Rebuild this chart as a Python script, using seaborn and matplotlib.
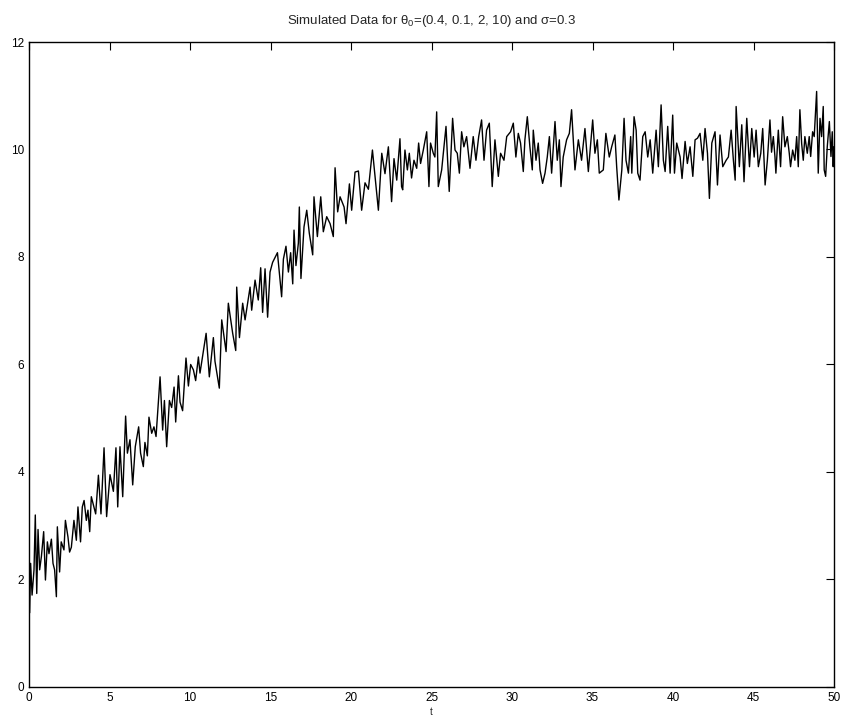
'''
Simulated logistic-type path, theta_0 = (0.4, 0.1, 2, 10), sigma = 0.3
'''
#%%
import numpy as np
import pandas as pd
import matplotlib
matplotlib.use('Agg')
import matplotlib.pyplot as plt
import seaborn as sns

#%% Data
# early rise, t in [0, 10.6]
t_rise = [0.04, 0.10, 0.19, 0.31, 0.39, 0.48, 0.56, 0.66, 0.77, 0.91, 1.02, 1.14, 1.24, 1.39, 1.49,
          1.59, 1.70, 1.76, 1.90, 2.00, 2.17, 2.26, 2.42, 2.52, 2.63, 2.79, 2.94, 3.04, 3.20, 3.31,
          3.42, 3.56, 3.66, 3.77, 3.87, 4.14, 4.31, 4.47, 4.66, 4.82, 5.03, 5.24, 5.40, 5.51, 5.65,
          5.82, 6.00, 6.11, 6.27, 6.44, 6.60, 6.81, 6.93, 7.10, 7.20, 7.35, 7.45, 7.62, 7.76, 7.89,
          8.14, 8.30, 8.41, 8.55, 8.72, 8.86, 9.01, 9.11, 9.28, 9.38, 9.54, 9.75, 9.90, 10.04, 10.21,
          10.35, 10.52]
y_rise = [1.38, 2.30, 1.71, 2.18, 3.20, 1.74, 2.93, 2.18, 2.43, 2.89, 1.99, 2.70, 2.48, 2.75, 2.30,
          2.18, 1.68, 2.98, 2.14, 2.70, 2.55, 3.10, 2.79, 2.51, 2.60, 3.10, 2.73, 3.35, 2.70, 3.35,
          3.47, 3.10, 3.29, 2.89, 3.54, 3.22, 3.94, 3.22, 4.45, 3.17, 3.95, 3.64, 4.45, 3.35, 4.47,
          3.54, 5.04, 4.35, 4.60, 3.76, 4.47, 4.84, 4.35, 4.10, 4.55, 4.30, 5.02, 4.72, 4.84, 4.66,
          5.77, 4.78, 5.33, 4.47, 5.33, 5.20, 5.58, 4.93, 5.79, 5.30, 5.14, 6.12, 5.60, 6.00, 5.90,
          5.70, 6.14]

# bend towards the plateau, t in [10.6, 23]
t_bend = [10.62, 11.00, 11.20, 11.45, 11.55, 11.82, 11.97, 12.24, 12.38, 12.65, 12.84, 12.90, 13.07,
          13.27, 13.42, 13.73, 13.83, 14.04, 14.24, 14.39, 14.51, 14.66, 14.82, 14.97, 15.13, 15.43,
          15.69, 15.80, 15.96, 16.11, 16.25, 16.38, 16.46, 16.58, 16.73, 16.79, 16.89, 17.08, 17.25,
          17.41, 17.62, 17.70, 17.91, 18.12, 18.28, 18.49, 18.70, 18.90, 19.01, 19.17, 19.32, 19.57,
          19.69, 19.90, 20.04, 20.25, 20.46, 20.66, 20.87, 21.08, 21.33, 21.49, 21.70, 21.91, 22.11,
          22.32, 22.52, 22.67, 22.84, 23.04]
y_bend = [5.84, 6.58, 5.77, 6.50, 6.06, 5.56, 6.83, 6.24, 7.14, 6.58, 6.26, 7.44, 6.50, 7.14, 6.83,
          7.44, 7.01, 7.57, 7.20, 7.80, 6.97, 7.78, 6.88, 7.72, 7.90, 8.08, 7.26, 7.96, 8.20, 7.72,
          8.08, 7.50, 8.50, 7.84, 8.26, 8.93, 7.60, 8.56, 8.87, 8.44, 8.04, 9.12, 8.38, 9.12, 8.47,
          8.75, 8.62, 8.38, 9.66, 8.84, 9.12, 8.93, 8.62, 9.36, 8.87, 9.58, 9.60, 8.87, 9.38, 9.26,
          9.99, 9.50, 8.87, 9.93, 9.55, 10.05, 9.03, 9.83, 9.43, 10.20]

# plateau, first part, t in [23, 36.7]
t_plat1 = [23.14, 23.21, 23.35, 23.50, 23.62, 23.76, 23.91, 24.08, 24.20, 24.32, 24.49, 24.70, 24.84,
           24.94, 25.11, 25.21, 25.32, 25.42, 25.63, 25.90, 26.00, 26.10, 26.31, 26.46, 26.60, 26.73,
           26.87, 27.01, 27.18, 27.39, 27.59, 27.76, 27.93, 28.11, 28.26, 28.42, 28.59, 28.77, 28.94,
           29.15, 29.29, 29.50, 29.67, 29.91, 30.08, 30.24, 30.39, 30.53, 30.70, 30.80, 30.95, 31.11,
           31.26, 31.32, 31.49, 31.63, 31.74, 31.90, 32.05, 32.19, 32.32, 32.46, 32.67, 32.81, 32.94,
           33.04, 33.18, 33.39, 33.56, 33.70, 33.91, 34.12, 34.32, 34.53, 34.74, 35.01, 35.15, 35.30,
           35.42, 35.67, 35.83, 36.04, 36.19, 36.39, 36.50, 36.64]
y_plat1 = [9.31, 9.25, 9.99, 9.62, 9.93, 9.47, 9.80, 9.65, 10.12, 9.74, 9.99, 10.33, 9.31, 10.12, 9.93,
           9.86, 10.70, 9.31, 9.62, 10.43, 9.80, 9.22, 10.58, 9.99, 9.93, 9.56, 10.33, 10.05, 10.24, 9.65,
           10.24, 9.80, 10.24, 10.55, 9.80, 10.36, 10.49, 9.31, 10.18, 9.50, 9.93, 9.80, 10.24, 10.33,
           10.49, 9.86, 10.30, 10.12, 9.59, 10.18, 10.61, 10.05, 9.62, 10.36, 9.80, 10.12, 9.62, 9.37,
           9.56, 9.86, 10.24, 9.56, 10.52, 9.80, 10.18, 9.31, 9.86, 10.18, 10.30, 10.74, 9.62, 10.18,
           9.80, 10.39, 9.59, 10.55, 9.93, 10.18, 9.56, 9.62, 10.30, 9.86, 10.05, 10.27, 9.68, 9.06]

# plateau, second part, t in [36.8, 46]
t_plat2 = [36.82, 36.96, 37.08, 37.23, 37.37, 37.44, 37.58, 37.71, 37.81, 37.95, 38.12, 38.27, 38.43,
           38.58, 38.74, 38.95, 39.09, 39.26, 39.40, 39.51, 39.67, 39.82, 39.98, 40.09, 40.23, 40.44,
           40.56, 40.75, 40.89, 41.06, 41.23, 41.37, 41.52, 41.68, 41.85, 41.99, 42.14, 42.26, 42.41,
           42.61, 42.76, 42.92, 43.09, 43.30, 43.44, 43.61, 43.75, 43.86, 43.92, 44.12, 44.27, 44.41,
           44.58, 44.75, 44.89, 45.04, 45.16, 45.30, 45.45, 45.57, 45.72, 45.86]
y_plat2 = [9.62, 10.58, 9.80, 9.56, 10.24, 9.56, 10.61, 10.36, 9.56, 9.43, 10.24, 10.33, 9.86, 10.18,
           9.56, 10.36, 9.68, 10.83, 9.80, 9.59, 10.43, 9.56, 10.64, 9.56, 10.12, 9.86, 9.46, 10.15,
           9.74, 10.05, 9.50, 10.18, 10.21, 10.30, 9.80, 10.39, 9.93, 9.09, 10.12, 10.33, 9.34, 10.27,
           9.68, 9.80, 9.86, 10.36, 9.80, 9.43, 10.80, 9.68, 10.46, 9.40, 10.58, 9.68, 10.39, 9.86,
           10.36, 9.68, 9.93, 10.39, 9.34, 9.80]

# last stretch, t in [46, 50]
t_end = [46.02, 46.12, 46.23, 46.33, 46.39, 46.54, 46.68, 46.81, 46.95, 47.10, 47.22, 47.30, 47.43,
         47.57, 47.68, 47.78, 47.88, 47.99, 48.09, 48.19, 48.34, 48.46, 48.55, 48.67, 48.77, 48.92,
         49.02, 49.13, 49.23, 49.33, 49.39, 49.48, 49.58, 49.71, 49.81, 49.89, 49.95, 49.99]
y_end = [10.55, 9.95, 10.24, 9.87, 9.56, 10.36, 9.68, 10.61, 10.05, 10.24, 9.93, 9.68, 9.99, 9.80,
         10.24, 9.68, 10.74, 10.11, 9.80, 10.24, 9.93, 10.24, 9.87, 10.33, 10.24, 11.08, 9.56, 10.58,
         10.24, 10.80, 9.62, 9.50, 10.05, 10.52, 9.87, 10.33, 9.68, 10.05]

x_ticks = [0, 5, 10, 15, 20, 25, 30, 35, 40, 45, 50]
y_ticks = [0, 2, 4, 6, 8, 10, 12]

df = pd.DataFrame({
    't': t_rise + t_bend + t_plat1 + t_plat2 + t_end,
    'x': y_rise + y_bend + y_plat1 + y_plat2 + y_end,
})

#%% Plot
sns.set_style('white')
plt.rcParams['font.family'] = ['Liberation Sans', 'DejaVu Sans']
plt.rcParams['mathtext.fontset'] = 'custom'
plt.rcParams['mathtext.rm'] = 'Liberation Sans'
plt.rcParams['mathtext.it'] = 'Liberation Sans'

fig = plt.figure(figsize=(8.41, 7.18), dpi=100)
ax = fig.add_axes([0.0345, 0.0432, 0.9572, 0.8983])

sns.lineplot(data=df, x='t', y='x', color='black', linewidth=1.0,
             estimator=None, sort=False, ax=ax)

ax.set_xlim(0, 50)
ax.set_ylim(0, 12)
ax.set_xticks(x_ticks)
ax.set_yticks(y_ticks)
ax.tick_params(direction='in', length=6, width=0.8, colors='black', labelsize=8.5,
               top=True, right=True, pad=3.5)
for side in ax.spines.values():
    side.set_color('black')
    side.set_linewidth(1.0)

ax.set_xlabel('t', fontsize=7, labelpad=2)
ax.set_ylabel('')
ax.set_title('Simulated Data for θ$_0$=(0.4, 0.1, 2, 10) and σ=0.3', fontsize=9.5, pad=13)

fig.savefig('out.png', dpi=100)
